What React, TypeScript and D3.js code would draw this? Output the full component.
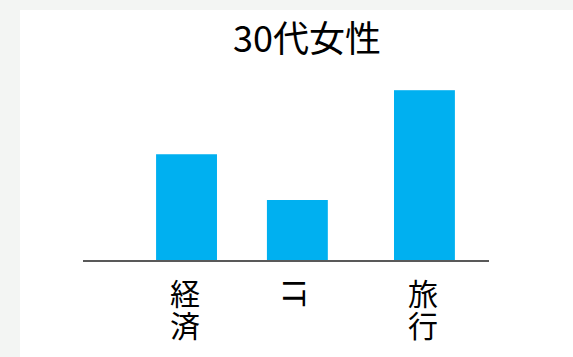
import React from "react";
import * as d3 from "d3";

const title = "30代女性";
const categories = ["経済", "IT", "旅行"];
const values = [35, 20, 56];
// relative position of each category along the axis (0 = left end, 1 = right end)
const positions = [0.255, 0.528, 0.841];
const yMax = 60;

const W = 573;
const H = 357;
const panel = { x: 20, y: 10 };
const plot = { left: 83, right: 489, bottom: 261, top: 78 };
const barWidthFrac = 0.15;
const FONT = "'Noto Sans CJK JP', 'Noto Sans', sans-serif";

export default function App() {
  const x = d3.scaleLinear().domain([0, 1]).range([plot.left, plot.right]);
  const y = d3.scaleLinear().domain([0, yMax]).range([plot.bottom, plot.top]);
  const bw = x(barWidthFrac) - x(0);
  const labelTop = 279;
  const fs = 30;

  return (
    <svg
      width={W}
      height={H}
      style={{ position: "absolute", left: 0, top: 0, display: "block" }}
      fontFamily={FONT}
    >
      <rect x={0} y={0} width={W} height={H} fill="#f3f5f3" />
      <rect x={panel.x} y={panel.y} width={W - panel.x} height={H - panel.y} fill="#ffffff" />
      <text x={307} y={52} textAnchor="middle" fontSize={36} fill="#000">
        {title}
      </text>
      {categories.map((c, i) => (
        <rect
          key={c}
          x={x(positions[i]) - bw / 2}
          y={y(values[i])}
          width={bw}
          height={y(0) - y(values[i])}
          fill="#00b0f0"
        />
      ))}
      <line
        x1={plot.left}
        x2={plot.right}
        y1={y(0)}
        y2={y(0)}
        stroke="#595959"
        strokeWidth={2}
      />
      {categories.map((c, i) => {
        const cx = x(positions[i]) - 1.5;
        return (
          <text
            key={c}
            x={cx}
            y={labelTop}
            fontSize={fs}
            fill="#000"
            textAnchor="start"
            style={{ writingMode: "vertical-rl", letterSpacing: "1.5px" }}
          >
            {c}
          </text>
        );
      })}
    </svg>
  );
}
